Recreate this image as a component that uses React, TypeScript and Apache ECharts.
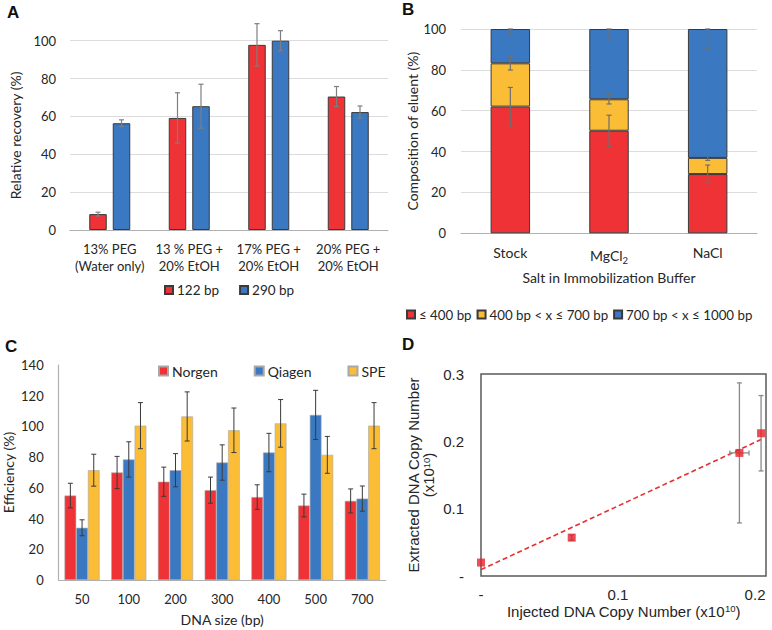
import React, { useEffect, useRef } from 'react';
import * as echarts from 'echarts';

// ---------- Panel A ----------
const catsA = ['13% PEG\n(Water only)', '13 % PEG +\n20% EtOH', '17% PEG +\n20% EtOH', '20% PEG +\n20% EtOH'];
const a122 = [8.4, 59.2, 97.8, 70.5];
const a122Err = [1.0, 13.3, 11.2, 5.3];
const a290 = [56.4, 65.4, 100, 62.3];
const a290Err = [1.8, 11.6, 5.3, 3.2];

// ---------- Panel B ----------
const catsB = ['Stock', 'MgCl2', 'NaCl'];
const bSmall = [62.0, 50.2, 29.0];
const bSmallErr = [9.4, 7.6, 4.4];
const bMid = [21.2, 15.4, 7.9];
const bMidErr = [3.3, 2.3, 1.2];
const bLarge = [16.8, 34.4, 63.1];
const bLargeErr = [2.4, 4.9, 9.5];

// ---------- Panel C ----------
const catsC = ['50', '100', '200', '300', '400', '500', '700'];
const norgen = [55, 70, 64, 58.5, 54, 48.5, 51.5];
const norgenErr = [8, 10.5, 9.5, 8.5, 8, 7.4, 7.8];
const qiagen = [34, 78.5, 71.5, 76.5, 83, 107.5, 53];
const qiagenErr = [5.2, 11.5, 10.8, 11.5, 12.5, 16, 8.2];
const spe = [71.5, 100.5, 106.5, 97.5, 102, 81.5, 100.5];
const speErr = [10.4, 15, 16, 14.5, 15.5, 12, 15];

// ---------- Panel D ----------
const dInjected = [0, 0.0662, 0.1886, 0.2044];
const dExtracted = [0.020, 0.057, 0.1828, 0.212];
const dInjErr = [0, 0, 0.007, 0];
const dExtErr = [0, 0.004, 0.104, 0.056];

const RED = '#EE3236';
const BLUE = '#3A78C1';
const YELLOW = '#FBBC36';
const CAL = 'Lato, "Open Sans", sans-serif';
const ARIAL = '"Liberation Sans", Arial, sans-serif';
const TXT = '#262626';
const AXIS = '#b0b0b0';

function errSeries(
  xi: number, offset: number, values: number[], errs: number[], base: number[] | null,
  cap: number, color: string, width: number, top?: number
) {
  return {
    type: 'custom',
    xAxisIndex: xi,
    yAxisIndex: xi,
    z: 10,
    silent: true,
    clip: false,
    encode: { x: 0, y: [1, 2] },
    data: values.map((v, i) => {
      const c = (base ? base[i] : 0) + v;
      const hi = top !== undefined ? Math.min(top, c + errs[i]) : c + errs[i];
      return [i, c - errs[i], hi];
    }),
    renderItem: (params: any, api: any) => {
      const i = api.value(0);
      const lo = api.coord([i, api.value(1)]);
      const hi = api.coord([i, api.value(2)]);
      const x = lo[0] + offset;
      const st = { stroke: color, lineWidth: width };
      return {
        type: 'group',
        children: [
          { type: 'line', shape: { x1: x, y1: lo[1], x2: x, y2: hi[1] }, style: st },
          { type: 'line', shape: { x1: x - cap / 2, y1: lo[1], x2: x + cap / 2, y2: lo[1] }, style: st },
          { type: 'line', shape: { x1: x - cap / 2, y1: hi[1], x2: x + cap / 2, y2: hi[1] }, style: st },
        ],
      };
    },
  };
}

export default function App() {
  const ref = useRef<HTMLDivElement>(null);
  useEffect(() => {
    document.body.style.margin = '0';
    if (!ref.current) return;
    const chart = echarts.init(ref.current, undefined, { renderer: 'svg' });

    // regression trend line for D
    const n = dInjected.length;
    const mx = dInjected.reduce((s, v) => s + v, 0) / n;
    const my = dExtracted.reduce((s, v) => s + v, 0) / n;
    let sxy = 0, sxx = 0;
    for (let i = 0; i < n; i++) {
      sxy += (dInjected[i] - mx) * (dExtracted[i] - my);
      sxx += (dInjected[i] - mx) ** 2;
    }
    const slope = sxy / sxx;
    const icpt = my - slope * mx;
    const xMaxPt = Math.max(...dInjected);
    const trend = [[0, icpt], [xMaxPt, icpt + slope * xMaxPt]];

    const barA = 17.5, gapA = 6;
    const offA = (barA + gapA) / 2;
    const barC = 11.7;

    const grid = [
      { left: 70, top: 40.7, width: 318, height: 189.3, outerBoundsMode: 'none', containLabel: false },
      { left: 461, top: 29, width: 296, height: 204.3, outerBoundsMode: 'none', containLabel: false },
      { left: 58.7, top: 365, width: 327, height: 215, outerBoundsMode: 'none', containLabel: false },
      {
        left: 481, top: 374, width: 285, height: 202, show: true, borderColor: '#5a5a5a', borderWidth: 1.5,
        backgroundColor: 'transparent', outerBoundsMode: 'none', containLabel: false,
      },
    ];

    const catLabel = (fs: number, margin: number) => ({
      fontFamily: CAL, fontSize: fs, color: TXT, margin, interval: 0,
    });

    const option: any = {
      animation: false,
      grid,
      graphic: [
        { type: 'text', left: 7, top: 4, style: { text: 'A', fontSize: 17, fontWeight: 'bold', fontFamily: ARIAL, fill: '#111' } },
        { type: 'text', left: 402, top: 1, style: { text: 'B', fontSize: 17, fontWeight: 'bold', fontFamily: ARIAL, fill: '#111' } },
        { type: 'text', left: 5, top: 338, style: { text: 'C', fontSize: 17, fontWeight: 'bold', fontFamily: ARIAL, fill: '#111' } },
        { type: 'text', left: 402, top: 336, style: { text: 'D', fontSize: 17, fontWeight: 'bold', fontFamily: ARIAL, fill: '#111' } },
      ],
      legend: [
        {
          left: 164, top: 283, padding: 0, itemWidth: 8, itemHeight: 8, itemGap: 20, icon: 'rect',
          data: ['122 bp', '290 bp'],
          textStyle: { fontFamily: CAL, fontSize: 13.5, color: TXT, padding: [0, 0, 0, -1] },
        },
        {
          left: 406, top: 308, padding: 0, itemWidth: 8, itemHeight: 8, itemGap: 5, icon: 'rect',
          width: 366,
          data: ['≤ 400 bp', '400 bp < x ≤ 700 bp', '700 bp < x ≤ 1000 bp'],
          textStyle: { fontFamily: CAL, fontSize: 13.3, color: TXT, padding: [0, 0, 0, -1] },
        },
        {
          left: 158, top: 364, padding: 0, itemWidth: 9, itemHeight: 9, itemGap: 36, icon: 'rect',
          data: ['Norgen', 'Qiagen', 'SPE'],
          textStyle: { fontFamily: CAL, fontSize: 14, color: TXT, padding: [0, 0, 0, -1] },
        },
      ],
      xAxis: [
        {
          type: 'category', gridIndex: 0, data: catsA,
          axisTick: { show: false },
          axisLine: { lineStyle: { color: AXIS, width: 1.2 } },
          axisLabel: { ...catLabel(13, 11), lineHeight: 16.5 },
        },
        {
          type: 'category', gridIndex: 1, data: catsB,
          axisTick: { show: false },
          axisLine: { lineStyle: { color: AXIS, width: 1.2 } },
          axisLabel: {
            ...catLabel(14, 12),
            formatter: (v: string) => (v === 'MgCl2' ? 'MgCl{sub|2}' : v),
            rich: { sub: { fontSize: 9.5, fontFamily: CAL, color: TXT, verticalAlign: 'bottom', lineHeight: 20 } },
          },
          name: 'Salt in Immobilization Buffer', nameLocation: 'middle', nameGap: 37,
          nameTextStyle: { fontFamily: CAL, fontSize: 14, color: TXT },
        },
        {
          type: 'category', gridIndex: 2, data: catsC,
          axisTick: { show: false },
          axisLine: { lineStyle: { color: AXIS, width: 1.2 } },
          axisLabel: catLabel(13, 12),
          name: 'DNA size (bp)', nameLocation: 'middle', nameGap: 32,
          nameTextStyle: { fontFamily: CAL, fontSize: 14, color: TXT },
        },
        {
          type: 'value', gridIndex: 3, min: 0, max: 0.208, interval: 0.1,
          axisTick: { show: false }, axisLine: { show: false }, splitLine: { show: false },
          axisLabel: {
            fontFamily: ARIAL, fontSize: 15, color: TXT, margin: 11, showMaxLabel: false,
            formatter: (v: number) => {
              if (Math.abs(v) < 1e-9) return '-';
              const r = Math.round(v * 10) / 10;
              return Math.abs(r - v) < 1e-9 ? r.toFixed(1) : '';
            },
          },
          name: 'Injected DNA Copy Number (x10{sup|10})', nameLocation: 'middle', nameGap: 27,
          nameTextStyle: {
            fontFamily: ARIAL, fontSize: 15, color: TXT, lineHeight: 17,
            rich: { sup: { fontSize: 9.5, fontFamily: ARIAL, color: TXT, verticalAlign: 'top', lineHeight: 17 } },
          },
        },
      ],
      yAxis: [
        {
          type: 'value', gridIndex: 0, min: 0, max: 100, interval: 20,
          axisLine: { show: false }, axisTick: { show: false },
          splitLine: { lineStyle: { color: '#dcdcdc', width: 1.2 } },
          axisLabel: { fontFamily: CAL, fontSize: 13, color: TXT, margin: 14 },
          name: 'Relative recovery (%)', nameLocation: 'middle', nameGap: 48,
          nameTextStyle: { fontFamily: CAL, fontSize: 14, color: TXT },
        },
        {
          type: 'value', gridIndex: 1, min: 0, max: 100, interval: 20,
          axisLine: { show: false }, axisTick: { show: false },
          splitLine: { lineStyle: { color: '#dcdcdc', width: 1.2 } },
          axisLabel: { fontFamily: CAL, fontSize: 13, color: TXT, margin: 15 },
          name: 'Composition of eluent (%)', nameLocation: 'middle', nameGap: 40,
          nameTextStyle: { fontFamily: CAL, fontSize: 14, color: TXT },
        },
        {
          type: 'value', gridIndex: 2, min: 0, max: 140, interval: 20,
          axisLine: { show: true, lineStyle: { color: AXIS, width: 1.2 } }, axisTick: { show: false },
          splitLine: { show: false },
          axisLabel: { fontFamily: CAL, fontSize: 13, color: TXT, margin: 15 },
          name: 'Efficiency (%)', nameLocation: 'middle', nameGap: 43,
          nameTextStyle: { fontFamily: CAL, fontSize: 14, color: TXT },
        },
        {
          type: 'value', gridIndex: 3, min: 0, max: 0.3, interval: 0.1,
          axisLine: { show: false }, axisTick: { show: false }, splitLine: { show: false },
          axisLabel: {
            fontFamily: ARIAL, fontSize: 15, color: TXT, margin: 17,
            formatter: (v: number) => (Math.abs(v) < 1e-9 ? '-' : v.toFixed(1)),
          },
          name: 'Extracted DNA Copy Number\n(x10{sup|10})', nameLocation: 'middle', nameGap: 45,
          nameTextStyle: {
            fontFamily: ARIAL, fontSize: 15, color: TXT, lineHeight: 15, align: 'center',
            rich: { sup: { fontSize: 9.5, fontFamily: ARIAL, color: TXT, verticalAlign: 'top', lineHeight: 15 } },
          },
        },
      ],
      series: [
        // A
        {
          name: '122 bp', type: 'bar', xAxisIndex: 0, yAxisIndex: 0, data: a122,
          barWidth: barA, barGap: `${(gapA / barA) * 100}%`,
          itemStyle: { color: RED, borderColor: '#3a3a3a', borderWidth: 1 },
        },
        {
          name: '290 bp', type: 'bar', xAxisIndex: 0, yAxisIndex: 0, data: a290,
          barWidth: barA, barGap: `${(gapA / barA) * 100}%`,
          itemStyle: { color: BLUE, borderColor: '#3a3a3a', borderWidth: 1 },
        },
        errSeries(0, -offA, a122, a122Err, null, 5, '#7f7f7f', 1.2),
        errSeries(0, offA, a290, a290Err, null, 5, '#7f7f7f', 1.2),
        // B
        {
          name: '≤ 400 bp', type: 'bar', stack: 'b', xAxisIndex: 1, yAxisIndex: 1, data: bSmall,
          barWidth: '40%', itemStyle: { color: RED, borderColor: '#3a3a3a', borderWidth: 1 },
        },
        {
          name: '400 bp < x ≤ 700 bp', type: 'bar', stack: 'b', xAxisIndex: 1, yAxisIndex: 1, data: bMid,
          barWidth: '40%', itemStyle: { color: YELLOW, borderColor: '#3a3a3a', borderWidth: 1 },
        },
        {
          name: '700 bp < x ≤ 1000 bp', type: 'bar', stack: 'b', xAxisIndex: 1, yAxisIndex: 1, data: bLarge,
          barWidth: '40%', itemStyle: { color: BLUE, borderColor: '#3a3a3a', borderWidth: 1 },
        },
        errSeries(1, 0, bSmall, bSmallErr, null, 5, '#6f6f6f', 1.2),
        errSeries(1, 0, bMid, bMidErr, bSmall, 5, '#6f6f6f', 1.2),
        errSeries(1, 0, bLarge, bLargeErr, bSmall.map((v, i) => v + bMid[i]), 5, '#6f6f6f', 1.2, 100),
        // C
        {
          name: 'Norgen', type: 'bar', xAxisIndex: 2, yAxisIndex: 2, data: norgen,
          barWidth: barC, barGap: '0%', itemStyle: { color: RED, borderColor: '#a8a8a8', borderWidth: 0.6 },
        },
        {
          name: 'Qiagen', type: 'bar', xAxisIndex: 2, yAxisIndex: 2, data: qiagen,
          barWidth: barC, barGap: '0%', itemStyle: { color: BLUE, borderColor: '#a8a8a8', borderWidth: 0.6 },
        },
        {
          name: 'SPE', type: 'bar', xAxisIndex: 2, yAxisIndex: 2, data: spe,
          barWidth: barC, barGap: '0%', itemStyle: { color: YELLOW, borderColor: '#a8a8a8', borderWidth: 0.6 },
        },
        errSeries(2, -barC, norgen, norgenErr, null, 5, '#3a3a3a', 1),
        errSeries(2, 0, qiagen, qiagenErr, null, 5, '#3a3a3a', 1),
        errSeries(2, barC, spe, speErr, null, 5, '#3a3a3a', 1),
        // D
        {
          type: 'line', xAxisIndex: 3, yAxisIndex: 3, data: trend, symbol: 'none', z: 3,
          lineStyle: { color: '#E53030', width: 1.6, type: [5, 3] },
        },
        {
          type: 'custom', xAxisIndex: 3, yAxisIndex: 3, z: 4, silent: true, clip: false,
          encode: { x: 0, y: 1 },
          data: dInjected.map((x, i) => [x, dExtracted[i], dInjErr[i], dExtErr[i]]),
          renderItem: (params: any, api: any) => {
            const x = api.value(0), y = api.value(1), ex = api.value(2), ey = api.value(3);
            const st = { stroke: '#8a8a8a', lineWidth: 1.3 };
            const ch: any[] = [];
            const cap = 5;
            if (ey > 0) {
              const a = api.coord([x, y - ey]);
              const b = api.coord([x, y + ey]);
              ch.push({ type: 'line', shape: { x1: a[0], y1: a[1], x2: b[0], y2: b[1] }, style: st });
              ch.push({ type: 'line', shape: { x1: a[0] - cap / 2, y1: a[1], x2: a[0] + cap / 2, y2: a[1] }, style: st });
              ch.push({ type: 'line', shape: { x1: b[0] - cap / 2, y1: b[1], x2: b[0] + cap / 2, y2: b[1] }, style: st });
            }
            if (ex > 0) {
              const a = api.coord([x - ex, y]);
              const b = api.coord([x + ex, y]);
              ch.push({ type: 'line', shape: { x1: a[0], y1: a[1], x2: b[0], y2: b[1] }, style: st });
              ch.push({ type: 'line', shape: { x1: a[0], y1: a[1] - cap / 2, x2: a[0], y2: a[1] + cap / 2 }, style: st });
              ch.push({ type: 'line', shape: { x1: b[0], y1: b[1] - cap / 2, x2: b[0], y2: b[1] + cap / 2 }, style: st });
            }
            return { type: 'group', children: ch };
          },
        },
        {
          type: 'scatter', xAxisIndex: 3, yAxisIndex: 3, z: 5,
          data: dInjected.map((x, i) => [x, dExtracted[i]]),
          symbol: 'rect', symbolSize: 8, itemStyle: { color: '#E8202A' },
        },
      ],
    };
    chart.setOption(option);
    return () => chart.dispose();
  }, []);
  return <div ref={ref} style={{ width: 772, height: 630 }} />;
}
